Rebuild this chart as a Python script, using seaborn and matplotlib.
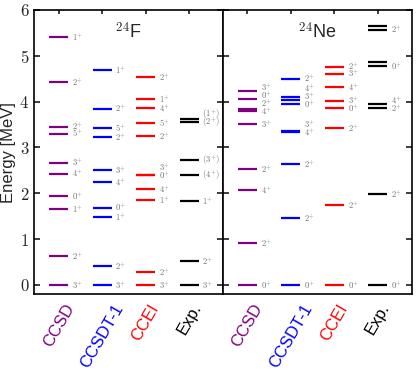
import matplotlib
matplotlib.use("Agg")
import matplotlib.pyplot as plt
import seaborn as sns

# ---------------- data ----------------
methods = ["CCSD", "CCSDT-1", "CCEI", "Exp."]
method_colors = ["purple", "blue", "red", "black"]

# 24F
f_ccsd_E = [0.0, 0.63, 1.65, 1.94, 2.43, 2.67, 3.30, 3.45, 4.42, 5.41]
f_ccsd_J = ["3+", "2+", "1+", "0+", "4+", "3+", "5+", "2+", "2+", "1+"]
f_ccsdt_E = [0.0, 0.41, 1.48, 1.69, 2.25, 2.50, 3.22, 3.42, 3.85, 4.69]
f_ccsdt_J = ["3+", "2+", "1+", "0+", "4+", "3+", "2+", "5+", "2+", "1+"]
f_ccei_E = [0.0, 0.28, 1.85, 2.09, 2.39, 2.41, 3.25, 3.53, 3.86, 4.06, 4.53]
f_ccei_J = ["3+", "2+", "1+", "4+", "0+", "3+", "2+", "5+", "4+", "1+", "2+"]
f_exp_E = [0.0, 0.52, 1.83, 2.39, 2.73, 3.55, 3.62]
f_exp_J = ["3+", "2+", "1+", "(4+)", "(3+)", "(2+)", "(1+)"]

# 24Ne
ne_ccsd_E = [0.0, 0.92, 2.07, 2.52, 3.51, 3.80, 3.83, 4.05, 4.24]
ne_ccsd_J = ["0+", "2+", "4+", "2+", "3+", "4+", "2+", "0+", "3+"]
ne_ccsdt_E = [0.0, 1.46, 2.63, 3.33, 3.37, 3.95, 4.04, 4.11, 4.50]
ne_ccsdt_J = ["0+", "2+", "2+", "4+", "3+", "0+", "3+", "4+", "2+"]
ne_ccei_E = [0.0, 1.75, 3.43, 3.86, 4.02, 4.32, 4.61, 4.75]
ne_ccei_J = ["0+", "2+", "2+", "0+", "3+", "4+", "3+", "2+"]
ne_exp_E = [0.0, 1.98, 3.86, 3.95, 4.77, 4.87, 5.57, 5.64]
ne_exp_J = ["0+", "2+", "2+", "4+", "0+", "", "2+", ""]

panels = [
    (r"$^{24}$F", [(f_ccsd_E, f_ccsd_J), (f_ccsdt_E, f_ccsdt_J),
                   (f_ccei_E, f_ccei_J), (f_exp_E, f_exp_J)]),
    (r"$^{24}$Ne", [(ne_ccsd_E, ne_ccsd_J), (ne_ccsdt_E, ne_ccsdt_J),
                    (ne_ccei_E, ne_ccei_J), (ne_exp_E, ne_exp_J)]),
]

y_ticks = [0, 1, 2, 3, 4, 5, 6]

# ---------------- style ----------------
sns.set_theme(style="ticks")
plt.rcParams["font.family"] = ["Liberation Sans", "DejaVu Sans"]
plt.rcParams["mathtext.fontset"] = "cm"


def jlabel(j):
    if not j:
        return ""
    if j.startswith("("):
        return r"$(%s^{%s})$" % (j[1:-2], j[-2])
    return r"$%s^{%s}$" % (j[:-1], j[-1])


fig, axes = plt.subplots(1, 2, figsize=(4.16, 3.70), dpi=100, sharey=True)
fig.subplots_adjust(left=0.082, right=0.99, top=0.973, bottom=0.205, wspace=0)

half = 0.218
gap = 0.17
for ax, (title, cols) in zip(axes, panels):
    for i, ((E, J), col) in enumerate(zip(cols, method_colors)):
        ax.hlines(E, i - half, i + half, colors=col, lw=1.6)
        pairs = sorted([(e, j) for e, j in zip(E, J) if j], key=lambda p: p[0])
        last = -10
        for e, j in pairs:
            yl = max(e, last + gap)
            last = yl
            ax.text(i + half + 0.09, yl, jlabel(j), fontsize=6.2, color="0.45",
                    ha="left", va="center")
    ax.text(1.6, 5.52, title, fontsize=13, ha="center", va="center")
    ax.set_xlim(-0.563, 3.78)
    ax.set_ylim(-0.2, 6)
    ax.set_xticks(range(len(methods)))
    ax.set_xticklabels(methods, rotation=60, fontsize=12)
    for lab, col in zip(ax.get_xticklabels(), method_colors):
        lab.set_color(col)
    ax.tick_params(axis="x", bottom=False, top=True, direction="in", length=3,
                   labelbottom=True, labeltop=False, pad=5)
    ax.tick_params(axis="y", left=True, right=True, direction="in", length=4)
    for s in ax.spines.values():
        s.set_linewidth(1.2)
        s.set_color("black")

axes[0].set_yticks(y_ticks)
axes[0].set_yticklabels([r"$%d$" % v for v in y_ticks], fontsize=12)
axes[1].tick_params(axis="y", labelleft=False)
axes[0].set_ylabel("Energy [MeV]", fontsize=12)
axes[0].yaxis.set_label_coords(-0.095, 0.5)

fig.savefig("out.png", dpi=100)
